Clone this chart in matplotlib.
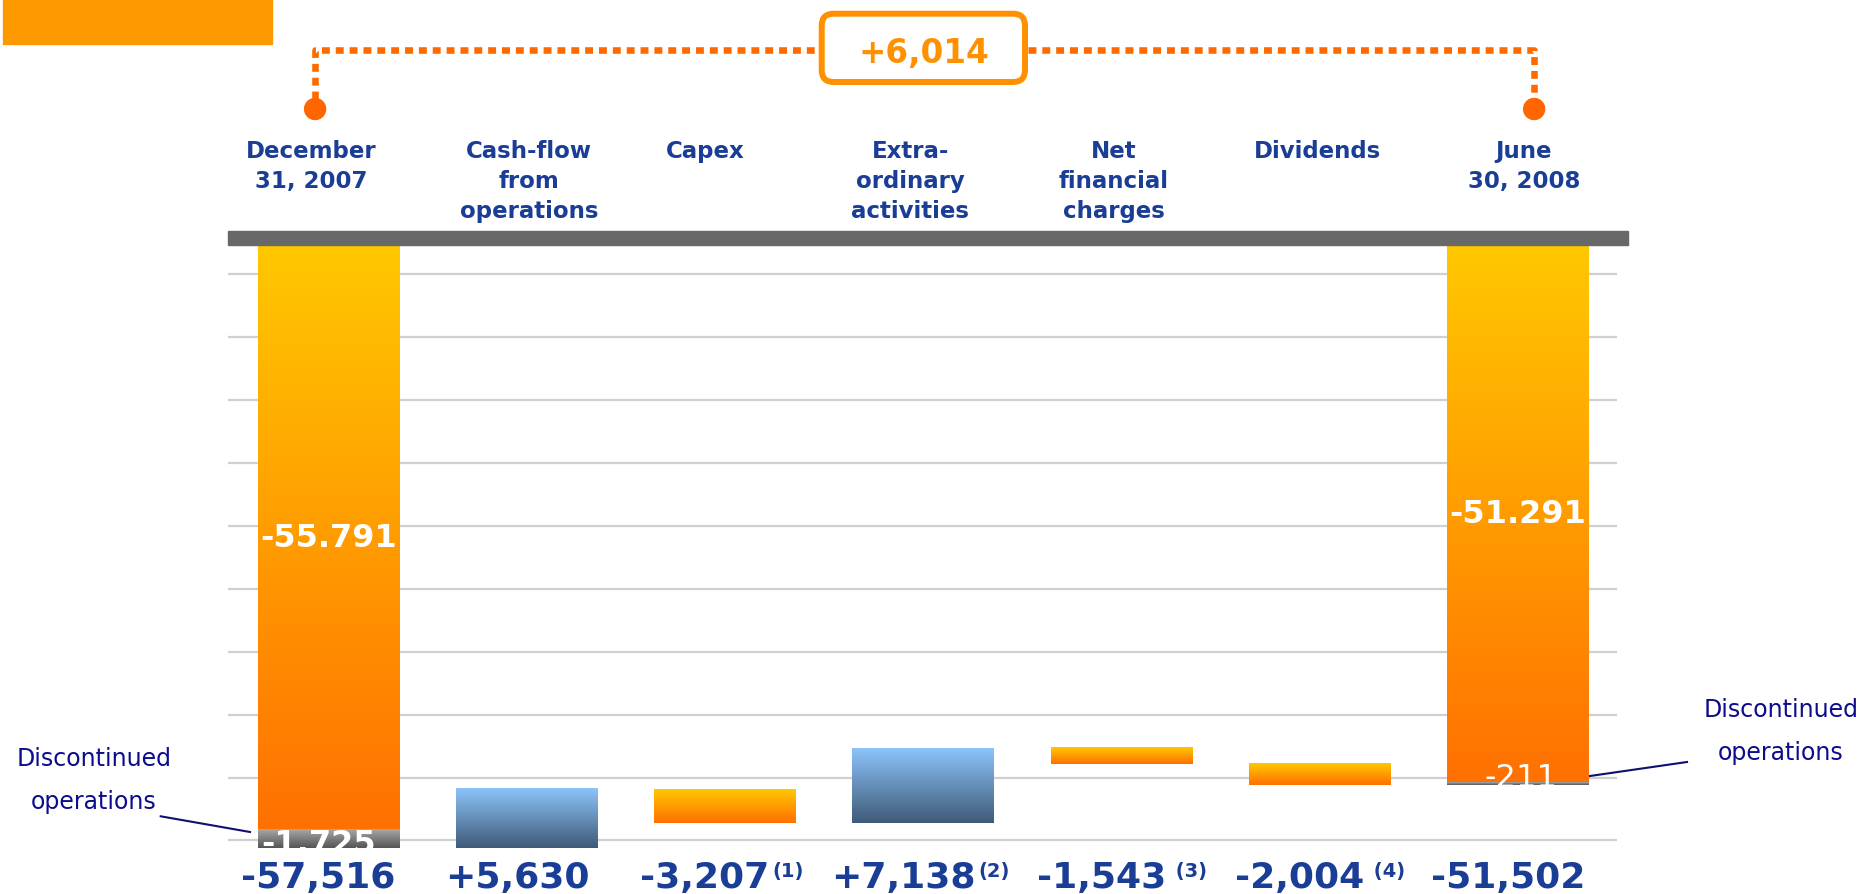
import numpy as np
import matplotlib
matplotlib.use("Agg")
import matplotlib.pyplot as plt
from matplotlib.patches import Rectangle, FancyBboxPatch, Circle
from matplotlib.colors import LinearSegmentedColormap

# data (millions of euro)
categories = ["December\n31, 2007", "Cash-flow\nfrom\noperations", "Capex",
              "Extra-\nordinary\nactivities", "Net\nfinancial\ncharges",
              "Dividends", "June\n30, 2008"]
start_parts = [-55791, -1725]     # continuing / discontinued
end_parts = [-51291, -211]
changes = [5630, -3207, 7138, -1543, -2004]
value_labels = ["-57,516", "+5,630", "-3,207", "+7,138", "-1,543", "-2,004", "-51,502"]
notes = ["", "", "(1)", "(2)", " (3)", " (4)", ""]
part_labels_start = ["-55.791", "-1.725"]
part_labels_end = ["-51.291", "-211"]
net_change = "+6,014"
grid_vals = [-2800, -8800, -14800, -20800, -26800, -32800, -38800, -44800, -50800, -56800]

W, H = 1863, 895
BLUE_TXT = "#1a3d96"
NAVY = "#0c0c8c"

orange_cm = LinearSegmentedColormap.from_list("o", ["#ffc800", "#ff7000"])
blue_cm = LinearSegmentedColormap.from_list("b", ["#8cc4fa", "#3f5a78"])
gray_cm = LinearSegmentedColormap.from_list("g", ["#a8a8a8", "#555555"])

fig = plt.figure(figsize=(W / 100, H / 100), dpi=100)
ax = fig.add_axes([228 / W, 1 - 875 / H, 1389 / W, (875 - 245.7) / H])
ax.set_xlim(-0.508, 6.5)
ax.set_ylim(-60000, 0)
ax.set_autoscale_on(False)
for s in ax.spines.values():
    s.set_visible(False)
ax.set_xticks([])
ax.set_yticks(grid_vals)
ax.tick_params(length=0, labelleft=False)
ax.yaxis.grid(True, color="#d0d0d0", lw=1.6)
ax.set_axisbelow(True)

bw = 0.715
grad = np.linspace(0, 1, 256)[:, None]


def gbar(x, y0, y1, cmap):
    lo, hi = min(y0, y1), max(y0, y1)
    ax.imshow(grad, cmap=cmap, extent=[x - bw / 2, x + bw / 2, lo, hi],
              aspect="auto", interpolation="bilinear", origin="upper", zorder=2)


def bar_clip(x, lo, hi):
    return Rectangle((x - bw / 2, lo), bw, hi - lo, transform=ax.transData)


# opening and closing bars
gbar(0, 0, start_parts[0], orange_cm)
gbar(0, start_parts[0], sum(start_parts), gray_cm)
gbar(6, 0, end_parts[0], orange_cm)
gbar(6, end_parts[0], sum(end_parts), gray_cm)

# floating bars
level = sum(start_parts)
for i, c in enumerate(changes, start=1):
    gbar(i, level, level + c, blue_cm if c > 0 else orange_cm)
    level += c

# grey band at zero
ax.add_patch(Rectangle((-0.508, 0), 7.064, 1306, color="#686868",
                       clip_on=False, zorder=3))

# white labels inside the big bars
ax.text(0, start_parts[0] / 2, part_labels_start[0], ha="center", va="center",
        color="white", fontsize=23, weight="bold", zorder=5)
ax.text(6, end_parts[0] / 2, part_labels_end[0], ha="center", va="center",
        color="white", fontsize=23, weight="bold", zorder=5)
t = ax.annotate(part_labels_start[1], xy=(0, sum(start_parts)), xytext=(-10, -4),
                textcoords="offset pixels", ha="center", va="baseline",
                color="white", fontsize=23, weight="bold", zorder=5)
t.set_clip_path(bar_clip(0, sum(start_parts), 0))
t = ax.annotate(part_labels_end[1], xy=(6, sum(end_parts)), xytext=(3, -1),
                textcoords="offset pixels", ha="center", va="baseline",
                color="white", fontsize=23, zorder=5)
t.set_clip_path(bar_clip(6, sum(end_parts), 0))

# overlay in pixel coordinates for text and decorations
ov = fig.add_axes([0, 0, 1, 1])
ov.set_xlim(0, W)
ov.set_ylim(H, 0)
ov.axis("off")
ov.patch.set_visible(False)


def bx(x):
    return ax.transData.transform((x, 0))[0]


ov.add_patch(Rectangle((3, 0), 269, 45, color="#ff9900"))

# category labels
top_dx = [-0.09, 0.01, -0.1, -0.065, -0.04, -0.01, 0.03]
for i, cat in enumerate(categories):
    ov.text(bx(i + top_dx[i]), 140, cat, ha="center", va="top", fontsize=16.5,
            weight="bold", color=BLUE_TXT, linespacing=1.4)

# value labels under the bars
for i, (lab, note) in enumerate(zip(value_labels, notes)):
    dx = -20 if note else -10
    tt = ov.text(bx(i) + dx, 888.3, lab, ha="center", va="baseline",
                 fontsize=26, weight="bold", color=BLUE_TXT)
    if note:
        ov.annotate(note, xy=(1, 1), xycoords=tt, xytext=(3, -1),
                    textcoords="offset pixels", ha="left", va="top",
                    fontsize=14, weight="bold", color=BLUE_TXT)

# bracket with net change
xl, xr = bx(-0.0686), bx(6.082)
ov.plot([xl, xl, xr, xr], [100, 51, 51, 100], color="#ff6a00", lw=4.75,
        ls=(0, (1.2, 0.9)), solid_capstyle="butt", dash_capstyle="butt")
for xx in (xl, xr):
    ov.add_patch(Circle((xx, 110), 10.5, color="#ff6600"))
ov.add_patch(FancyBboxPatch((821.7, 14.7), 203.3, 68.3,
                            boxstyle="round,pad=0,rounding_size=12",
                            fc="white", ec="#ff9000", lw=4.3, zorder=4))
ov.text(923.5, 62.7, net_change, ha="center", va="baseline", fontsize=23.5,
        weight="bold", color="#ff9000", zorder=5)

# discontinued operations callouts
ov.text(93.7, 746.6, "Discontinued\noperations", ha="center", va="top",
        fontsize=17, color=NAVY, linespacing=2.0)
ov.plot([160.7, 250], [817.3, 833], color="#10106e", lw=1.5)
ov.text(1780.7, 697.6, "Discontinued\noperations", ha="center", va="top",
        fontsize=17, color=NAVY, linespacing=2.0)
ov.plot([1590, 1687], [777, 763], color="#10106e", lw=1.5)

fig.savefig("out.png", dpi=100)
